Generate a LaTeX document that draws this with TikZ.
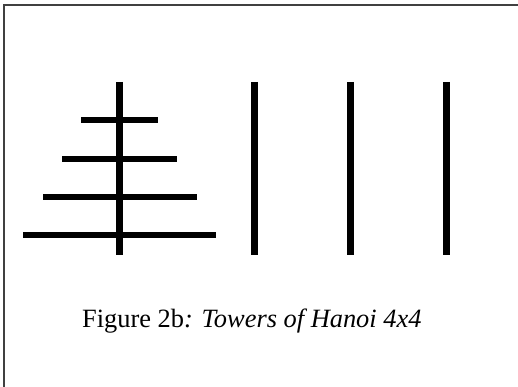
\documentclass[tikz,border=0pt]{standalone}
\usepackage{fontspec}
\setmainfont{Liberation Serif}
\begin{document}
\begin{tikzpicture}[x=1pt,y=-1pt,
  peg/.style={line width=7pt,black},
  disk/.style={line width=6pt,black},
  frameline/.style={line width=1.5pt,draw=black!75}]
\useasboundingbox (0,0) rectangle (518,387);
\draw[frameline] (4,387) -- (4,5) -- (518,5);
\foreach \x/\n in {119.7/a,254/b,350/c,446/d}{
  \coordinate (\n top) at (\x,82);
  \coordinate (\n bot) at (\x,255);
  \draw[peg] (\n top) -- (\n bot);
}
\draw[disk] (81,120) -- (158,120);
\draw[disk] (62,158.7) -- (177,158.7);
\draw[disk] (43,197) -- (197,197);
\draw[disk] (23,235) -- (216,235);
\node[anchor=base west,inner sep=0pt,font=\fontsize{26.4}{30}\selectfont] (cap) at (82,327) {Figure 2b\textit{: Towers of Hanoi 4x4}};
\end{tikzpicture}
\end{document}
